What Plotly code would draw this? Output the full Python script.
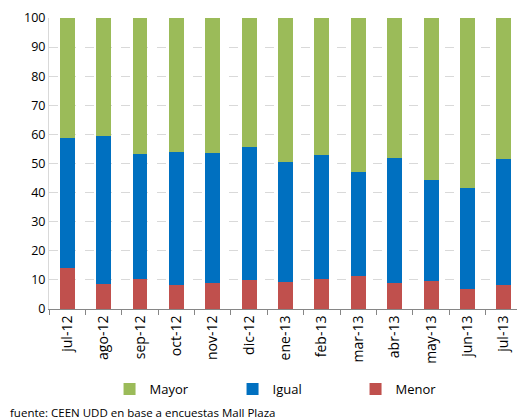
import plotly.graph_objects as go

months = ["jul-12", "ago-12", "sep-12", "oct-12", "nov-12", "dic-12", "ene-13",
          "feb-13", "mar-13", "abr-13", "may-13", "jun-13", "jul-13"]
menor = [14.1, 8.7, 10.4, 8.1, 9.1, 9.9, 9.4, 10.4, 11.3, 8.9, 9.6, 6.8, 8.4]
igual = [44.5, 50.6, 42.8, 45.9, 44.4, 45.7, 41.0, 42.4, 35.7, 42.9, 34.9, 34.8, 43.0]
mayor = [41.4, 40.7, 46.8, 46.0, 46.5, 44.4, 49.6, 47.2, 53.0, 48.2, 55.5, 58.4, 48.6]
yticks = [0, 10, 20, 30, 40, 50, 60, 70, 80, 90, 100]

font = "Open Sans"
W, H = 517, 411
fig = go.Figure()
fig.add_trace(go.Bar(x=months, y=menor, name="Menor", marker_color="#C0504D",
                     marker_line_width=0))
fig.add_trace(go.Bar(x=months, y=igual, name="Igual", marker_color="#0070C0",
                     marker_line_width=0))
fig.add_trace(go.Bar(x=months, y=mayor, name="Mayor", marker_color="#9BBB59",
                     marker_line_width=0))

fig.update_layout(
    barmode="stack",
    bargap=0.59,
    width=W, height=H,
    margin=dict(l=41, r=3, t=10, b=110, autoexpand=False),
    paper_bgcolor="white", plot_bgcolor="white",
    font=dict(family=font, size=13, color="#000000"),
    showlegend=True,
    legend=dict(orientation="h", traceorder="reversed", x=0.128, xanchor="left",
                yref="container", y=1 - 381 / H, yanchor="middle",
                entrywidth=78, entrywidthmode="pixels",
                font=dict(size=13), itemwidth=30),
    annotations=[dict(text="fuente: CEEN UDD en base a encuestas Mall Plaza",
                      xref="paper", yref="paper", x=-41/473, y=-0.354,
                      xanchor="left", yanchor="middle", showarrow=False,
                      font=dict(size=11.5, family=font))],
)
fig.update_xaxes(
    type="category", tickangle=-90, tickson="boundaries",
    ticks="outside", ticklen=5, tickcolor="#868686", automargin=False,
    showline=True, linecolor="#868686", linewidth=1,
    showgrid=False, tickfont=dict(size=14),
)
fig.update_yaxes(
    range=[0, 100], tickvals=yticks, showline=True, linecolor="#D9D9D9",
    showgrid=True, gridcolor="#D9D9D9", griddash="dash", gridwidth=1,
    zeroline=False, ticks="", tickfont=dict(size=12.5), automargin=False,
)
fig.write_html("out.html")
